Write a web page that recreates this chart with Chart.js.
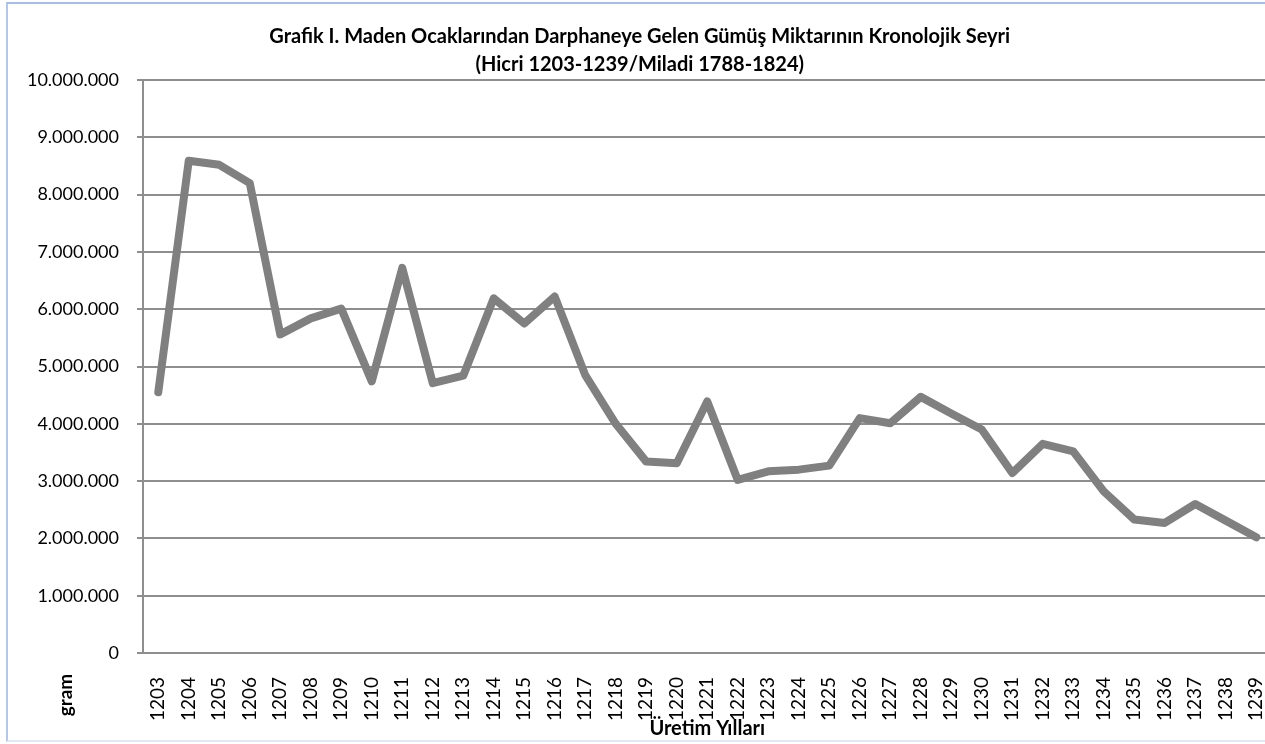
<!DOCTYPE html>
<html>
<head>
<meta charset="utf-8">
<script src="https://cdn.jsdelivr.net/npm/chart.js@4"></script>
<style>
  html, body { margin: 0; padding: 0; background: #ffffff; overflow: hidden; width: 1265px; height: 744px; }
  #frame { position: absolute; left: 6px; top: 2px; width: 1300px; height: 736px;
           border-left: 2px solid #b3c7ec; border-top: 2px solid #a6bdea; border-bottom: 2px solid #e1e7f6; }
  #c { position: absolute; left: 0; top: 0; }
</style>
</head>
<body>
<div id="frame"></div>
<canvas id="c" width="1290" height="744"></canvas>
<script>
const titleLines = [
  "Grafik I. Maden Ocaklarından Darphaneye Gelen Gümüş Miktarının Kronolojik Seyri",
  "(Hicri 1203-1239/Miladi 1788-1824)"
];
const xAxisTitle = "Üretim Yılları";
const unitLabel = "gram";
const years = ["1203","1204","1205","1206","1207","1208","1209","1210","1211","1212",
  "1213","1214","1215","1216","1217","1218","1219","1220","1221","1222",
  "1223","1224","1225","1226","1227","1228","1229","1230","1231","1232",
  "1233","1234","1235","1236","1237","1238","1239"];
const silverGrams = [4550000, 8590000, 8520000, 8200000, 5560000, 5840000, 6010000, 4740000, 6720000, 4710000,
  4840000, 6190000, 5750000, 6220000, 4850000, 4000000, 3340000, 3310000, 4390000, 3020000,
  3170000, 3200000, 3270000, 4100000, 4010000, 4470000, 4180000, 3900000, 3140000, 3650000,
  3520000, 2820000, 2330000, 2270000, 2600000, 2310000, 2020000];
const yMin = 0, yMax = 10000000, yStep = 1000000;

function fmt(v) {
  return String(Math.round(v)).replace(/\B(?=(\d{3})+(?!\d))/g, ".");
}

const unitLabelPlugin = {
  id: 'unitLabel',
  afterDraw(chart) {
    const ctx = chart.ctx;
    ctx.save();
    ctx.translate(72, 695);
    ctx.rotate(-Math.PI / 2);
    ctx.font = "bold 19px Lato";
    ctx.fillStyle = "#000";
    ctx.textAlign = "center";
    ctx.textBaseline = "alphabetic";
    ctx.fillText(unitLabel, 0, 0);
    ctx.restore();
  }
};

const gridColor = "#8e8e8e";

new Chart(document.getElementById('c'), {
  type: 'line',
  data: {
    labels: years,
    datasets: [{
      data: silverGrams,
      borderColor: '#808080',
      borderWidth: 8,
      pointRadius: 0,
      pointHoverRadius: 0,
      tension: 0,
      borderJoinStyle: 'round',
      borderCapStyle: 'round',
      fill: false
    }]
  },
  options: {
    responsive: false,
    animation: false,
    devicePixelRatio: 1,
    layout: { padding: { left: 8, right: 18.5, top: 0, bottom: 0 } },
    plugins: {
      legend: { display: false },
      tooltip: { enabled: false },
      title: {
        display: true,
        text: titleLines,
        color: '#000',
        font: { family: 'Lato', size: 20, weight: 'bold', lineHeight: '28px' },
        padding: { top: 23, bottom: 1 }
      }
    },
    scales: {
      x: {
        type: 'category',
        offset: true,
        grid: { display: false, drawTicks: false },
        border: { display: true, color: gridColor, width: 2 },
        ticks: {
          autoSkip: false,
          maxRotation: 90,
          minRotation: 90,
          padding: 24,
          color: '#000',
          font: { family: 'Lato', size: 19 }
        },
        title: {
          display: true,
          text: xAxisTitle,
          color: '#000',
          font: { family: 'Lato', size: 20, weight: 'bold', lineHeight: '22px' },
          padding: { top: 0, bottom: 4 }
        },
        afterFit(scale) { scale.height = 91; scale.paddingLeft = 0; scale.paddingRight = 0; }
      },
      y: {
        min: yMin,
        max: yMax,
        grid: { color: gridColor, lineWidth: 2, drawTicks: true, tickLength: 6 },
        border: { display: true, color: gridColor, width: 2 },
        ticks: {
          stepSize: yStep,
          padding: 18,
          color: '#000',
          font: { family: 'Lato', size: 18 },
          callback: (v) => fmt(v)
        },
        afterFit(scale) { scale.width = 135; }
      }
    }
  },
  plugins: [unitLabelPlugin]
});
</script>
</body>
</html>
